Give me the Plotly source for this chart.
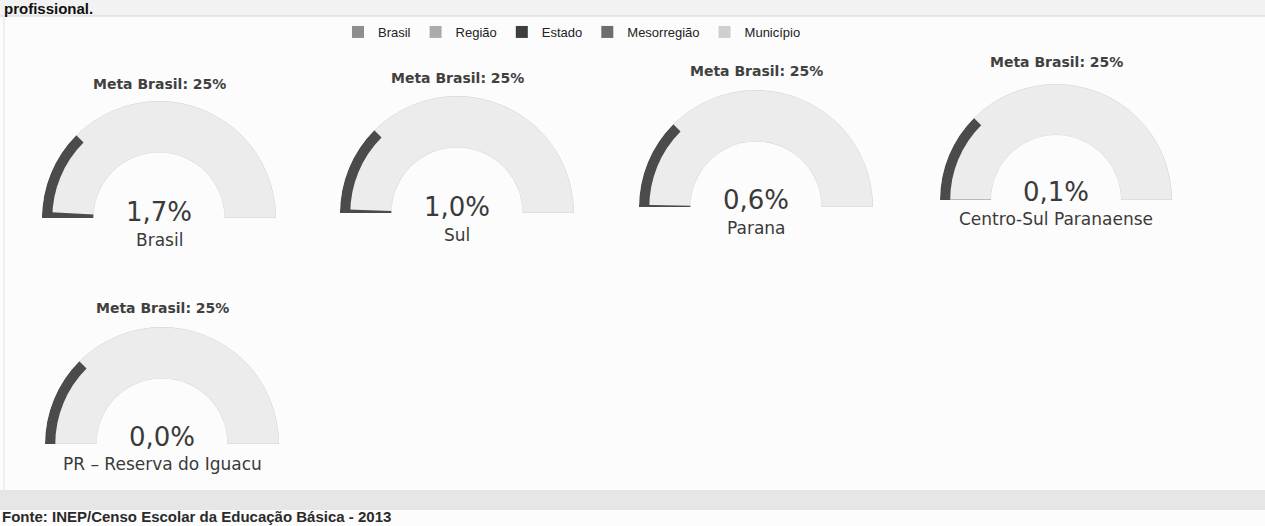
import plotly.graph_objects as go

# ---- data ----
places = ["Brasil", "Sul", "Parana", "Centro-Sul Paranaense", "PR - Reserva do Iguacu"]
values = [1.7, 1.0, 0.6, 0.1, 0.0]
meta = 25
scale_max = 100
legend_names = ["Brasil", "Região", "Estado", "Mesorregião", "Município"]
legend_colors = ["#8e8e8e", "#ababab", "#3e3e3e", "#6e6e6e", "#cfcfcf"]
title_text = "profissional."
source_text = "Fonte: INEP/Censo Escolar da Educação Básica - 2013"

W, H = 1265, 526
# gauge placement in pixels: center x, baseline y, outer radius, title y, number y, label y
geom = [
    (159, 218, 117, 84, 212, 240),
    (457, 213, 117, 78, 207, 235),
    (756, 207, 117, 71, 200, 228),
    (1056, 200, 116, 62, 192, 219),
    (162, 444, 117, 308, 437, 464),
]

BAND = "#4b4b4b"
BG = "#ececec"
TEXT = "#3a3a3a"
FONT = "DejaVu Sans"

fig = go.Figure()
annotations = []
layout_polars = {}

for i, (name, v) in enumerate(zip(places, values)):
    cx, by, R, ty, ny, ly = geom[i]
    pid = "polar" if i == 0 else f"polar{i+1}"
    sub = pid
    deg = 180.0 / scale_max
    # background arc
    fig.add_trace(go.Barpolar(
        r=[1], base=[0], theta=[scale_max * deg / 2], width=[scale_max * deg],
        marker=dict(color=BG, line=dict(color="#d2d2d2", width=1)),
        subplot=sub, showlegend=False, hoverinfo="skip"))
    # meta band (outer edge)
    fig.add_trace(go.Barpolar(
        r=[0.2], base=[0.8], theta=[meta * deg / 2], width=[meta * deg],
        marker=dict(color=BAND, line=dict(width=0)),
        subplot=sub, showlegend=False, hoverinfo="skip"))
    # value bar
    fig.add_trace(go.Barpolar(
        r=[1], base=[0], theta=[v * deg / 2], width=[v * deg],
        marker=dict(color=BAND, line=dict(width=0)),
        subplot=sub, showlegend=False, name=name))
    layout_polars[pid] = dict(
        domain=dict(x=[(cx - R) / W, (cx + R) / W], y=[(H - by) / H, (H - by + R) / H]),
        sector=[0, 180], hole=0.56, bgcolor="rgba(0,0,0,0)", barmode="overlay",
        radialaxis=dict(visible=False, range=[0, 1]),
        angularaxis=dict(visible=False, rotation=180, direction="clockwise"),
    )
    annotations.append(dict(x=cx / W, y=1 - ty / H, xref="paper", yref="paper",
                            xanchor="center", yanchor="middle",
                            text=f"<b>Meta Brasil: {meta}%</b>", showarrow=False,
                            font=dict(family=FONT, size=14, color="#404040")))
    annotations.append(dict(x=cx / W, y=1 - ny / H, xref="paper", yref="paper",
                            xanchor="center", yanchor="middle",
                            text=f"{v:.1f}".replace(".", ",") + "%", showarrow=False,
                            font=dict(family=FONT, size=26, color=TEXT)))
    annotations.append(dict(x=cx / W, y=1 - ly / H, xref="paper", yref="paper",
                            xanchor="center", yanchor="middle",
                            text=name.replace("PR - ", "PR – "), showarrow=False,
                            font=dict(family=FONT, size=17, color=TEXT)))

# legend entries
for n, c in zip(legend_names, legend_colors):
    fig.add_trace(go.Scatterpolar(r=[None], theta=[None], mode="markers", name=n,
                                  marker=dict(symbol="square", size=12, color=c),
                                  subplot="polar"))

annotations.append(dict(x=0, y=1, xref="paper", yref="paper", xanchor="left", yanchor="top",
                        xshift=2, yshift=2, text=f"<b>{title_text}</b>", showarrow=False,
                        font=dict(family="Liberation Sans", size=15, color="#111")))
annotations.append(dict(x=0, y=1 - 516 / H, xref="paper", yref="paper", xanchor="left", yanchor="middle",
                        text=f"<b>{source_text}</b>", showarrow=False,
                        font=dict(family="Liberation Sans", size=15, color="#2a2a2a")))

shapes = [
    dict(type="rect", xref="paper", yref="paper", x0=0, x1=1, y0=1 - 16 / H, y1=1,
         fillcolor="#f2f2f2", line=dict(width=0), layer="below"),
    dict(type="line", xref="paper", yref="paper", x0=0, x1=1, y0=1 - 16 / H, y1=1 - 16 / H,
         line=dict(color="#d6d6d6", width=1)),
    dict(type="line", xref="paper", yref="paper", x0=4 / W, x1=4 / W, y0=1 - 490 / H, y1=1 - 16 / H,
         line=dict(color="#e2e2e2", width=1)),
    dict(type="rect", xref="paper", yref="paper", x0=0, x1=1, y0=1 - 510 / H, y1=1 - 490 / H,
         fillcolor="#e6e6e6", line=dict(width=0), layer="below"),
]

fig.update_layout(
    width=W, height=H, margin=dict(l=0, r=0, t=0, b=0),
    paper_bgcolor="#fcfcfc", plot_bgcolor="#fcfcfc",
    showlegend=True,
    legend=dict(orientation="h", x=338 / W, y=1 - 17 / H, xanchor="left", yanchor="top",
                font=dict(family="Liberation Sans", size=13, color="#222"),
                itemwidth=30,
                bgcolor="rgba(0,0,0,0)", itemclick=False, itemdoubleclick=False),
    annotations=annotations, shapes=shapes,
    **layout_polars,
)

fig.write_html("out.html", config={"displayModeBar": False},
               post_script="document.body.style.margin='0';document.body.style.overflow='hidden';")
